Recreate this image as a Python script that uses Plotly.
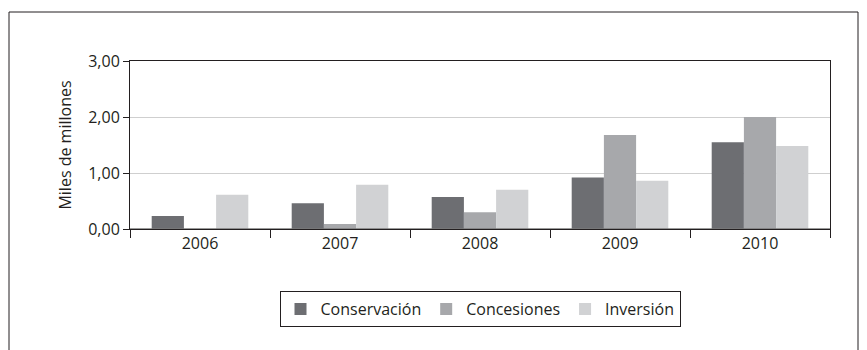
import plotly.graph_objects as go

years = ["2006", "2007", "2008", "2009", "2010"]
conservacion = [0.23, 0.46, 0.57, 0.92, 1.55]
concesiones = [0.0, 0.09, 0.30, 1.68, 2.00]
inversion = [0.61, 0.79, 0.70, 0.86, 1.48]

series = [
    ("Conservación", conservacion, "#6d6e72"),
    ("Concesiones", concesiones, "#a7a8ab"),
    ("Inversión", inversion, "#d1d2d4"),
]

FONT = "Open Sans, DejaVu Sans, sans-serif"

# page body has an 8px margin, so the figure is sized to fit inside the window
W, H = 859, 342
L, T, PW, PH = 122, 53, 700, 168

fig = go.Figure()
for name, vals, clr in series:
    fig.add_trace(go.Bar(x=years, y=vals, name=name, marker=dict(color=clr, line=dict(width=0))))

fig.update_layout(
    width=W, height=H,
    margin=dict(l=L, r=W - L - PW, t=T, b=H - T - PH),
    paper_bgcolor="white", plot_bgcolor="white",
    font=dict(family=FONT, size=16, color="#231f20"),
    separators=",.",
    barmode="group", bargap=0.31, bargroupgap=0,
    showlegend=True,
    legend=dict(orientation="h", x=0.5, xanchor="center", y=-0.37, yanchor="top",
                bordercolor="#231f20", borderwidth=1, font=dict(size=16),
                itemwidth=30, tracegroupgap=0),
)

fig.update_xaxes(
    type="category", tickson="boundaries", ticks="outside", ticklen=8,
    tickcolor="#231f20", showline=True, linecolor="#231f20", linewidth=1,
    mirror=True, showgrid=False, zeroline=False,
)
fig.update_yaxes(
    range=[0, 3], tickvals=[0, 1, 2, 3], tickformat=".2f",
    ticks="outside", ticklen=6, tickcolor="#231f20",
    showline=True, linecolor="#231f20", linewidth=1, mirror=True,
    showgrid=True, gridcolor="#cfcfcf", gridwidth=1,
    zeroline=False,
    title=dict(text="Miles de millones", standoff=12, font=dict(size=16)),
)

# baseline at zero drawn in grey like the reference
fig.add_shape(type="line", xref="paper", yref="y", x0=0, x1=1, y0=0, y1=0,
              line=dict(color="#7a7a7a", width=1.5))

# outer frame around the whole chart
fig.add_shape(type="rect", xref="paper", yref="paper",
              x0=(1 - L) / PW, x1=(850 - L) / PW,
              y0=-1.5, y1=1 + (T - 4) / PH,
              line=dict(color="#231f20", width=1), fillcolor="rgba(0,0,0,0)")

fig.write_html("out.html")
